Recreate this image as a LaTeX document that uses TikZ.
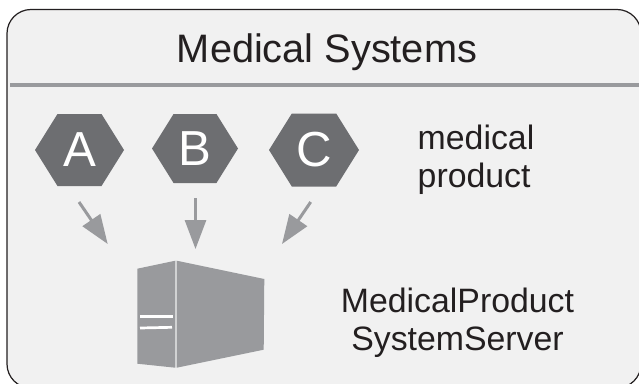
\documentclass[tikz,border=0pt]{standalone}
\usepackage{fontspec}
\setmainfont{Liberation Sans}
\usetikzlibrary{positioning,arrows.meta,shapes.symbols}
\definecolor{panelgray}{HTML}{F1F1F1}
\definecolor{hexgray}{HTML}{6D6E71}
\definecolor{servergray}{HTML}{999A9D}
\definecolor{inkblack}{HTML}{231F20}
\newcommand{\unitpx}{*0.2mm}
\tikzset{
    panel/.style = {
        draw=inkblack,
        shape=rectangle,
        rounded corners=24\unitpx,
        line width=1.2\unitpx,
        fill=panelgray,
        minimum width=634\unitpx,
        minimum height=378.5\unitpx
    },
    hexagon/.style = {
        shape=signal,
        signal to=east and west,
        signal pointer angle=116,
        inner sep=0pt,
        minimum width=89\unitpx,
        minimum height=72\unitpx,
        fill=hexgray,
        text=white,
        font=\fontsize{28}{28}\selectfont
    },
    title/.style = {
        text=inkblack,
        font=\fontsize{22.6}{26}\selectfont
    },
    caption/.style = {
        text=inkblack,
        align=center,
        font=\fontsize{19.25}{21.5}\selectfont
    },
    feed/.style = {
        draw=servergray,
        line width=3\unitpx,
        -{Triangle[length=29\unitpx,width=21\unitpx]}
    },
    face/.style = {
        fill=servergray
    },
    slit/.style = {
        draw=white,
        line width=2.7\unitpx
    },
}
\begin{document}
\begin{tikzpicture}[x=0.2mm,y=-0.2mm]

            \useasboundingbox (0,0) rectangle (639,383);
            \clip (0,0) rectangle (639,383);

            \node[panel] (panel) at (324,198.75) {};
            \path[draw=servergray, line width=3.2\unitpx] (10,85) -- (639,85);

            \node[title] (title) at (327,52) {Medical Systems};

            \node[hexagon] (hex_a) at (79.5,150) {A};
            \node[hexagon, minimum width=86\unitpx, minimum height=69\unitpx] (hex_b) at (195,148.5) {B};
            \node[hexagon, minimum width=90\unitpx, minimum height=73\unitpx] (hex_c) at (314,150) {C};

            \node[caption, align=left] (product) at (476,159.5) {medical\\product};
            \node[caption] (server_label) at (457.5,323) {MedicalProduct\\SystemServer};

            % server box
            \path[face] (137.3,268.7) -- (175.3,260.7) -- (175.3,367.7) -- (137.3,363.7) -- cycle;
            \path[face] (176.7,260.7) -- (264.3,279) -- (263.7,349.7) -- (176.7,367.7) -- cycle;
            \path[slit] (140,316.7) -- (173,316.7);
            \path[slit] (140,328) -- (172,327.3);

            \coordinate (start_a) at (79,202);
            \coordinate (tip_a) at (107.7,244);
            \coordinate (start_b) at (195.5,198);
            \coordinate (tip_b) at (195.5,249);
            \coordinate (start_c) at (310.7,202);
            \coordinate (tip_c) at (282,244);

            \path[feed] (start_a) -- (tip_a);
            \path[feed] (start_b) -- (tip_b);
            \path[feed] (start_c) -- (tip_c);

        \end{tikzpicture}
\end{document}
